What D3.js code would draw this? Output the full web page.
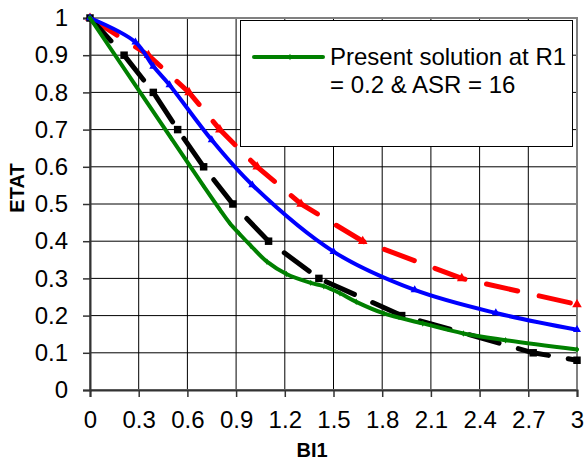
<!DOCTYPE html>
<html>
<head>
<meta charset="utf-8">
<script src="https://cdn.jsdelivr.net/npm/d3@7"></script>
<style>
  body { margin: 0; background: #fff; }
  text { font-family: Arial, "Liberation Sans", sans-serif; }
</style>
</head>
<body>
<script>
// ---------------------- DATA ----------------------
const xTicks = [0, 0.3, 0.6, 0.9, 1.2, 1.5, 1.8, 2.1, 2.4, 2.7, 3];
const yTicks = [0, 0.1, 0.2, 0.3, 0.4, 0.5, 0.6, 0.7, 0.8, 0.9, 1];

const greenX = [0, 0.5, 0.7, 0.8, 0.86, 0.92, 0.99, 1.09, 1.21, 1.36, 1.44, 1.54, 1.64, 1.81, 2.05, 2.3, 2.56, 3.0];
const greenY = [1, 0.677, 0.548, 0.485, 0.449, 0.42, 0.388, 0.345, 0.312, 0.288, 0.279, 0.26, 0.237, 0.206, 0.179, 0.152, 0.134, 0.109];

const blueX = [0, 0.28, 0.39, 0.49, 0.75, 1.0, 1.5, 2.0, 2.5, 3.0];
const blueY = [1, 0.935, 0.87, 0.82, 0.672, 0.551, 0.372, 0.269, 0.207, 0.162];

const redX = [0, 0.36, 0.61, 0.80, 1.03, 1.30, 1.68, 2.29, 3.0];
const redY = [1, 0.90, 0.80, 0.70, 0.60, 0.50, 0.40, 0.30, 0.23];

const blackX = [0, 0.21, 0.39, 0.54, 0.70, 0.88, 1.10, 1.41, 1.92, 2.73, 3.0];
const blackY = [1, 0.90, 0.80, 0.70, 0.60, 0.50, 0.40, 0.30, 0.20, 0.10, 0.08];

const legendLabel = ["Present solution at R1", "= 0.2 & ASR = 16"];

// ---------------------- SETUP ----------------------
const width = 584, height = 464;
const plotLeft = 90, plotRight = 577, plotTop = 18, plotBottom = 390;

const svg = d3.select("body").append("svg")
    .attr("width", width)
    .attr("height", height);

const x = d3.scaleLinear().domain([0, 3]).range([plotLeft, plotRight]);
const y = d3.scaleLinear().domain([0, 1]).range([plotBottom, plotTop]);

// gridlines
svg.append("g")
    .selectAll("line")
    .data(xTicks)
    .enter().append("line")
    .attr("x1", d => x(d)).attr("x2", d => x(d))
    .attr("y1", plotTop).attr("y2", plotBottom)
    .attr("stroke", "#000").attr("stroke-width", 1);

svg.append("g")
    .selectAll("line")
    .data(yTicks)
    .enter().append("line")
    .attr("x1", plotLeft).attr("x2", plotRight)
    .attr("y1", d => y(d)).attr("y2", d => y(d))
    .attr("stroke", "#000").attr("stroke-width", 1);

// frame
svg.append("rect")
    .attr("x", plotLeft).attr("y", plotTop)
    .attr("width", plotRight - plotLeft).attr("height", plotBottom - plotTop)
    .attr("fill", "none")
    .attr("stroke", "#808080")
    .attr("stroke-width", 2);

// axes
const fmt = d => String(+d.toFixed(1));
const xAxis = svg.append("g")
    .attr("transform", `translate(0,${plotBottom})`)
    .call(d3.axisBottom(x).tickValues(xTicks).tickSize(7).tickPadding(14).tickFormat(fmt));
const yAxis = svg.append("g")
    .attr("transform", `translate(${plotLeft},0)`)
    .call(d3.axisLeft(y).tickValues(yTicks).tickSize(7).tickPadding(15).tickFormat(fmt));

[xAxis, yAxis].forEach(a => {
    a.select(".domain").attr("stroke", "#333").attr("stroke-width", 2);
    a.selectAll(".tick line").attr("stroke", "#333").attr("stroke-width", 1.5);
    a.selectAll(".tick text")
        .attr("fill", "#000")
        .style("font-size", "24px")
        .style("font-family", "Arial, 'Liberation Sans', sans-serif");
});

// axis titles
svg.append("text")
    .attr("x", 312).attr("y", 457)
    .attr("text-anchor", "middle")
    .style("font-size", "20px").style("font-weight", "bold")
    .text("BI1");

svg.append("text")
    .attr("transform", "translate(24,188) rotate(-90)")
    .attr("text-anchor", "middle")
    .style("font-size", "20px").style("font-weight", "bold")
    .text("ETAT");

// ---------------------- SERIES ----------------------
function zipPoints(xs, ys) {
    return xs.map((v, i) => [v, ys[i]]);
}

const line = d3.line()
    .x(d => x(d[0]))
    .y(d => y(d[1]));

const smooth = d3.curveCatmullRom.alpha(0.5);

const series = [
    { pts: zipPoints(redX, redY), color: "#ff0000", width: 5, dash: "32,22", curve: d3.curveLinear, marker: d3.symbolTriangle, size: 40 },
    { pts: zipPoints(blackX, blackY), color: "#000000", width: 5, dash: "31,20", curve: d3.curveLinear, marker: d3.symbolSquare, size: 56 },
    { pts: zipPoints(blueX, blueY), color: "#0000ff", width: 4, dash: null, curve: smooth, marker: d3.symbolTriangle, size: 28 },
    { pts: zipPoints(greenX, greenY), color: "#008000", width: 4, dash: null, curve: smooth, marker: d3.symbolDiamond, size: 12 }
];

series.forEach(s => {
    svg.append("path")
        .datum(s.pts)
        .attr("fill", "none")
        .attr("stroke", s.color)
        .attr("stroke-width", s.width)
        .attr("stroke-linecap", "round")
        .attr("stroke-dasharray", s.dash)
        .attr("d", line.curve(s.curve));

    svg.append("g")
        .selectAll("path")
        .data(s.pts)
        .enter().append("path")
        .attr("transform", d => `translate(${x(d[0])},${y(d[1])})`)
        .attr("d", d3.symbol().type(s.marker).size(s.size))
        .attr("fill", s.color);
});

// ---------------------- LEGEND ----------------------
const legend = svg.append("g");
legend.append("rect")
    .attr("x", 240.5).attr("y", 20.5)
    .attr("width", 332).attr("height", 126)
    .attr("fill", "#fff")
    .attr("stroke", "#000")
    .attr("stroke-width", 1);

legend.append("line")
    .attr("x1", 254).attr("x2", 323)
    .attr("y1", 57).attr("y2", 57)
    .attr("stroke", "#008000")
    .attr("stroke-width", 4)
    .attr("stroke-linecap", "round");

legend.append("path")
    .attr("transform", "translate(290,57)")
    .attr("d", d3.symbol().type(d3.symbolDiamond).size(12))
    .attr("fill", "#008000");

legend.selectAll("text")
    .data(legendLabel)
    .enter().append("text")
    .attr("x", 330)
    .attr("y", (d, i) => 65 + i * 28)
    .style("font-size", "24px")
    .text(d => d);
</script>
</body>
</html>
